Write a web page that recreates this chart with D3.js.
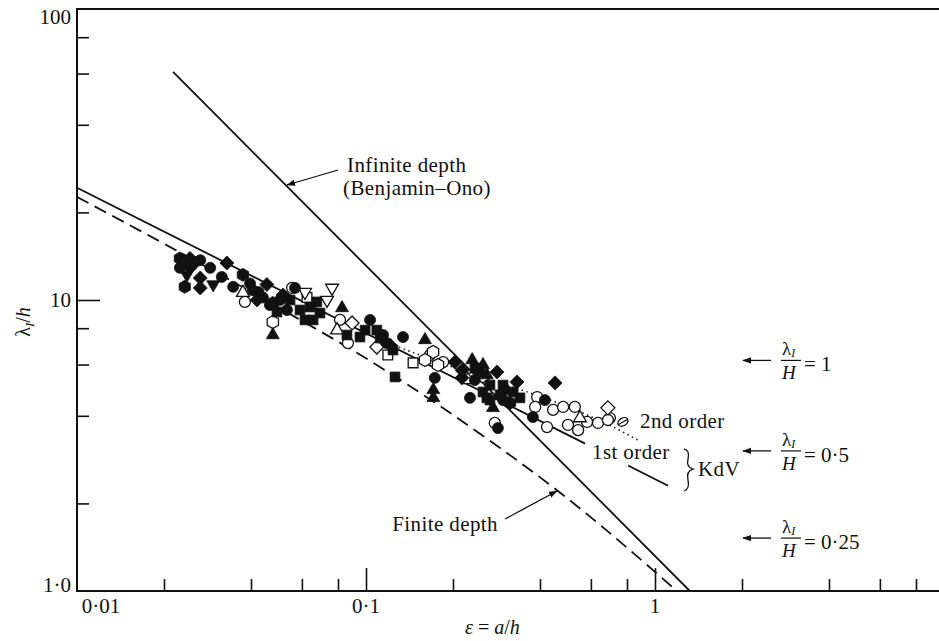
<!DOCTYPE html>
<html>
<head>
<meta charset="utf-8">
<script src="https://cdn.jsdelivr.net/npm/d3@7"></script>
<style>
  body { margin: 0; background: #fff; }
  text { font-family: "Liberation Serif", "Times New Roman", serif; fill: #111; }
</style>
</head>
<body>
<svg id="chart" width="939" height="641"></svg>
<script>
// theory curves, [epsilon, lambda/h]
var kdvFirstA = [[0.01, 24.3], [0.573, 3.21]];
var kdvFirstB = [[0.807, 2.70], [1.11, 2.30]];
var kdvSecond = [[0.112, 7.29], [0.195, 5.93], [0.291, 5.19], [0.434, 4.53], [0.66, 3.81], [0.873, 3.30]];
var benjaminOno = [[0.0215, 60.8], [1.32, 1.0]];
var finiteDepth = [[0.01, 22.6], [0.0218, 14.9], [0.0516, 9.24], [0.1117, 5.89], [0.291, 3.10], [0.458, 2.22], [0.984, 1.18], [1.19, 1.0]];

// experimental points, one list per symbol
var fillCircle = [[0.0267,13.7],[0.0289,12.9],[0.0317,12.0],[0.0347,11.1],[0.0568,11.0],[0.1033,8.54],[0.1343,7.46],[0.229,4.61],[0.416,4.53],[0.378,3.96],[0.286,3.63],[0.044,10.2],[0.0406,10.8],[0.0233,13.4],[0.118,7.11],[0.173,5.40],[0.248,5.66],[0.303,4.91],[0.0256,13.5],[0.0227,12.9],[0.0465,9.61],[0.1146,7.58],[0.238,5.31],[0.298,4.53],[0.0397,11.4],[0.0425,10.65],[0.0504,10.0],[0.0533,9.24]];
var fillDiamond = [[0.033,13.4],[0.0267,11.9],[0.0267,11.0],[0.0454,11.3],[0.203,6.12],[0.333,5.23],[0.451,5.19],[0.0246,12.9],[0.042,10.0],[0.0246,13.9],[0.121,7.00],[0.0516,10.4],[0.215,5.74],[0.284,5.66],[0.2148,5.40]];
var fillHexagon = [[0.0236,11.1],[0.0227,13.9],[0.0375,12.2],[0.0476,9.77],[0.315,4.43]];
var fillTriDown = [[0.024,12.2],[0.0296,11.3]];
var fillTriUp = [[0.0476,7.58],[0.0826,9.39],[0.16,7.29],[0.233,6.22],[0.254,5.98],[0.275,4.26],[0.171,4.91],[0.171,4.61],[0.262,5.52]];
var fillSquare = [[0.0591,9.24],[0.064,9.46],[0.0676,9.85],[0.0693,9.02],[0.0656,8.54],[0.0615,8.54],[0.126,5.44],[0.0953,7.46],[0.0859,7.58],[0.109,7.88],[0.0993,7.88],[0.112,7.40],[0.0546,10.0],[0.2685,5.10],[0.291,4.72],[0.323,4.83],[0.341,4.61],[0.254,4.83],[0.0492,9.09],[0.124,6.73],[0.262,4.61],[0.2383,5.84],[0.298,5.10],[0.2685,4.53]];
var openCircle = [[0.0555,11.0],[0.0381,9.85],[0.0813,8.54],[0.0866,7.11],[0.185,6.12],[0.1665,6.47],[0.254,5.44],[0.279,3.78],[0.391,4.64],[0.385,4.29],[0.423,3.66],[0.5,3.72],[0.542,3.57],[0.444,4.19],[0.481,4.29],[0.528,4.29],[0.582,3.81],[0.635,3.78],[0.698,3.93],[0.687,3.87]];
var openDiamond = [[0.109,6.89],[0.0895,8.34],[0.687,4.26]];
var openSquare = [[0.119,6.47],[0.1455,6.08],[0.0625,10.2]];
var openTriDown = [[0.0615,10.65],[0.0763,11.0],[0.0733,10.0]];
var openTriUp = [[0.0794,7.88],[0.2254,5.31],[0.0375,10.6],[0.55,3.93]];
var openHexagon = [[0.0476,8.40],[0.1706,6.63],[0.1775,5.98],[0.16,6.22]];
var openEllipse = [[0.7745,3.81]];

// axis ticks
var xMinor = [0.02, 0.04, 0.06, 0.08, 0.2, 0.4, 0.6, 0.8, 2, 4, 6, 8];
var xMajor = [0.1, 1];
var xLabels = [[0.01, "0·01"], [0.1, "0·1"], [1, "1"]];
var yMinor = [2, 4, 6, 8, 20, 40, 60, 80];
var yMajor = [10];
var yLabels = [[1, "1·0"], [10, "10"], [100, "100"]];

// lambda_I / H levels marked on the right
var levels = [[6.2, "1"], [3.03, "0·5"], [1.52, "0·25"]];

var svg = d3.select("#chart");

var x = d3.scaleLog().domain([0.01, 10]).range([77, 944]);
var y = d3.scaleLog().domain([1, 100]).range([591, 9]);

// arrow head
svg.append("defs").append("marker")
    .attr("id", "head")
    .attr("viewBox", "0 0 10 10")
    .attr("refX", 9).attr("refY", 5)
    .attr("markerWidth", 9).attr("markerHeight", 9)
    .attr("markerUnits", "userSpaceOnUse")
    .attr("orient", "auto")
  .append("path")
    .attr("d", "M0,1.5L10,5L0,8.5z")
    .attr("fill", "#111");

// frame
svg.append("path")
    .attr("d", "M944,9H77V591H944")
    .attr("fill", "none").attr("stroke", "#111").attr("stroke-width", 2);

// ticks (inward)
svg.append("g").attr("transform", "translate(0,591)")
    .call(d3.axisBottom(x).tickValues(xMinor).tickSize(-12).tickFormat(""))
    .call(function(g) { g.select(".domain").remove(); });
svg.append("g").attr("transform", "translate(0,591)")
    .call(d3.axisBottom(x).tickValues(xMajor).tickSize(-23).tickFormat(""))
    .call(function(g) { g.select(".domain").remove(); });
svg.append("g").attr("transform", "translate(77,0)")
    .call(d3.axisLeft(y).tickValues(yMinor).tickSize(-12).tickFormat(""))
    .call(function(g) { g.select(".domain").remove(); });
svg.append("g").attr("transform", "translate(77,0)")
    .call(d3.axisLeft(y).tickValues(yMajor).tickSize(-23).tickFormat(""))
    .call(function(g) { g.select(".domain").remove(); });
svg.selectAll(".tick line").attr("stroke", "#111").attr("stroke-width", 1.6);

// tick labels
svg.selectAll(".xl").data(xLabels).enter().append("text")
    .attr("x", function(d) { return x(d[0]) + (d[0] === 0.01 ? 24 : 0); })
    .attr("y", 613)
    .attr("text-anchor", "middle")
    .style("font-size", "21px")
    .text(function(d) { return d[1]; });
svg.selectAll(".yl").data(yLabels).enter().append("text")
    .attr("x", 71)
    .attr("y", function(d) { return y(d[0]) + (d[0] === 100 ? 15 : d[0] === 1 ? 1 : 7); })
    .attr("text-anchor", "end")
    .style("font-size", "21px")
    .text(function(d) { return d[1]; });

// axis titles
var xt = svg.append("text").attr("x", 465).attr("y", 634).style("font-size", "20px");
xt.append("tspan").style("font-style", "italic").text("ε");
xt.append("tspan").text(" = ");
xt.append("tspan").style("font-style", "italic").text("a");
xt.append("tspan").text("/");
xt.append("tspan").style("font-style", "italic").text("h");

var yt = svg.append("text").attr("transform", "translate(30,322) rotate(-90)")
    .attr("text-anchor", "middle").style("font-size", "20px");
yt.append("tspan").text("λ");
yt.append("tspan").style("font-style", "italic").style("font-size", "13px").attr("dy", 4).text("I");
yt.append("tspan").attr("dy", -4).text("/");
yt.append("tspan").style("font-style", "italic").text("h");

// curves
var straight = d3.line().x(function(d) { return x(d[0]); }).y(function(d) { return y(d[1]); });
var smooth = d3.line().x(function(d) { return x(d[0]); }).y(function(d) { return y(d[1]); })
    .curve(d3.curveMonotoneX);

function curve(data, gen, dash, w) {
  svg.append("path").datum(data)
      .attr("d", gen)
      .attr("fill", "none")
      .attr("stroke", "#111")
      .attr("stroke-width", w)
      .attr("stroke-dasharray", dash);
}
curve(benjaminOno, straight, null, 1.8);
curve(kdvFirstA, straight, null, 1.8);
curve(kdvFirstB, straight, null, 1.8);
curve(finiteDepth, smooth, "13,7", 1.8);
curve(kdvSecond, smooth, "1.5,3.5", 1.5);

// symbols
function hexagon(r) {
  var p = [];
  for (var i = 0; i < 6; i++) {
    var a = Math.PI / 6 + i * Math.PI / 3;
    p.push([r * Math.cos(a), r * Math.sin(a)]);
  }
  return "M" + p.join("L") + "Z";
}
var shapes = {
  circle: d3.symbol().type(d3.symbolCircle).size(95)(),
  square: d3.symbol().type(d3.symbolSquare).size(95)(),
  triUp: d3.symbol().type(d3.symbolTriangle).size(72)(),
  diamond: "M0,-7L7,0L0,7L-7,0Z",
  hexagon: hexagon(6.5),
  ellipse: "M-5.5,0A5.5,3.8 0 1,0 5.5,0A5.5,3.8 0 1,0 -5.5,0M-5.5,0H5.5"
};

function points(data, shape, filled, rot) {
  svg.append("g").selectAll("path").data(data).enter().append("path")
      .attr("d", shape === "triDown" ? shapes.triUp : shapes[shape])
      .attr("transform", function(d) {
        return "translate(" + x(d[0]) + "," + y(d[1]) + ")" +
          (shape === "triDown" ? " rotate(180)" : "") + (rot ? " rotate(" + rot + ")" : "");
      })
      .attr("fill", filled ? "#111" : "#fff")
      .attr("stroke", "#111")
      .attr("stroke-width", filled ? 0.8 : 1.3);
}
points(openCircle, "circle", false);
points(openDiamond, "diamond", false);
points(openSquare, "square", false);
points(openTriDown, "triDown", false);
points(openTriUp, "triUp", false);
points(openHexagon, "hexagon", false);
points(openEllipse, "ellipse", false, -30);
points(fillCircle, "circle", true);
points(fillDiamond, "diamond", true);
points(fillHexagon, "hexagon", true);
points(fillTriDown, "triDown", true);
points(fillTriUp, "triUp", true);
points(fillSquare, "square", true);

// curve labels
function label(tx, ty, str) {
  svg.append("text").attr("x", tx).attr("y", ty)
      .style("font-size", "21px").style("letter-spacing", "0.4px")
      .text(str);
}
label(347, 172, "Infinite depth");
label(343, 195, "(Benjamin–Ono)");
label(640, 428, "2nd order");
label(592, 459, "1st order");
label(698, 476, "KdV");
svg.append("text").attr("x", 498).attr("y", 531).attr("text-anchor", "end")
    .style("font-size", "21px").style("letter-spacing", "0.4px").text("Finite depth");

function arrow(x1, y1, x2, y2) {
  svg.append("line")
      .attr("x1", x1).attr("y1", y1).attr("x2", x2).attr("y2", y2)
      .attr("stroke", "#111").attr("stroke-width", 1.3)
      .attr("marker-end", "url(#head)");
}
arrow(338, 170, 287, 185);
arrow(505, 519, 557, 491);

// KdV brace
svg.append("path")
    .attr("d", "M684,449Q690,450 688,459Q686,467 693,469Q686,471 688,480Q690,489 684,491")
    .attr("fill", "none").attr("stroke", "#111").attr("stroke-width", 1.3);

// lambda_I / H markers on the right
levels.forEach(function(l) {
  var ya = y(l[0]);
  arrow(771, ya, 743, ya);
  var t = svg.append("text").attr("x", 782).attr("y", ya - 5).style("font-size", "19px");
  t.append("tspan").text("λ");
  t.append("tspan").style("font-style", "italic").style("font-size", "12px").attr("dy", 2).text("I");
  svg.append("line").attr("x1", 781).attr("x2", 801).attr("y1", ya).attr("y2", ya)
      .attr("stroke", "#111").attr("stroke-width", 1.2);
  svg.append("text").attr("x", 782).attr("y", ya + 19).style("font-size", "19px")
      .style("font-style", "italic").text("H");
  svg.append("text").attr("x", 804).attr("y", ya + 11).style("font-size", "21px")
      .text("= " + l[1]);
});
</script>
</body>
</html>
